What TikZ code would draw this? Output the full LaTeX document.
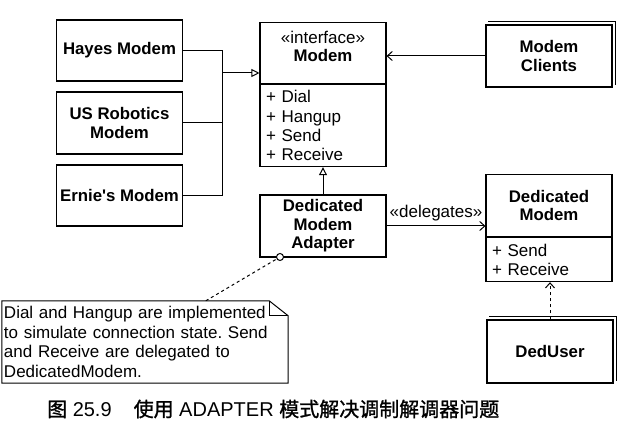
\documentclass[tikz,border=0pt]{standalone}
\usepackage{fontspec}
\setmainfont{Liberation Sans}
\newfontfamily\cjk{Noto Sans CJK SC}[AutoFakeBold=1.2]
\usetikzlibrary{arrows.meta,calc}
\frenchspacing
\tikzset{
  cls/.style={draw, line width=1.1pt, minimum width=126pt, inner sep=2pt, align=center, font=\fontsize{16.8}{18.5}\selectfont\bfseries},
  attrs/.style={draw, line width=1.1pt, minimum width=126pt, inner xsep=6pt, inner ysep=3pt, align=left, text width=114pt, font=\fontsize{17}{19.2}\selectfont},
  conn/.style={line width=1pt},
  gen/.style={conn, -{Triangle[open, length=8pt, width=8pt]}},
  dep/.style={conn, -{Straight Barb[length=5pt, width=9pt]}},
  lbl/.style={font=\fontsize{17}{19.5}\selectfont, inner sep=1pt},
}
\begin{document}
\begin{tikzpicture}[x=1pt, y=-1pt]
\useasboundingbox (0,0) rectangle (630,427);
% left implementations
\node[cls, minimum height=61pt] (hayes) at (119.5,50.5) {Hayes Modem};
\node[cls, minimum height=62pt] (usr) at (119.5,123) {US Robotics\\Modem};
\node[cls, minimum height=61pt] (ernie) at (119.5,195.5) {Ernie\textquotesingle s Modem};
% Modem interface
\node[cls, minimum height=61pt, anchor=north] (mhead) at (323,22) {};
\node[cls, draw=none, minimum height=0pt, minimum width=0pt, inner sep=0pt] (mtitle) at (323,46.5) {{\fontsize{17}{18}\selectfont\mdseries «interface»}\\Modem};
\node[attrs, minimum height=82pt, anchor=north] (mattr) at (mhead.south) {+ Dial\\+ Hangup\\+ Send\\+ Receive};
% Modem clients
\node[cls, minimum height=62pt] (clients) at (549,56) {Modem\\Clients};
\draw[line width=1.1pt] ($(clients.north west)+(3,-3)$) -- ($(clients.north east)+(3,-3)$) -- ($(clients.south east)+(3,-3)$);
% adapter
\node[cls, minimum height=62pt] (adapter) at (323,226) {Dedicated\\Modem\\Adapter};
% Dedicated modem
\node[cls, minimum height=62pt, anchor=north] (dhead) at (549,174) {Dedicated\\Modem};
\node[attrs, minimum height=44pt, anchor=north] (dattr) at (dhead.south) {+ Send\\+ Receive};
% DedUser
\node[cls, minimum height=63pt] (deduser) at (550,351.5) {DedUser};
\draw[line width=1.1pt] ($(deduser.north west)+(3,-3)$) -- ($(deduser.north east)+(3,-3)$) -- ($(deduser.south east)+(3,-3)$);
% note
\node[minimum width=286pt, minimum height=82pt, text width=282pt, align=left, inner sep=0pt, font=\fontsize{17}{19.4}\selectfont] (note) at (145,342) {Dial and Hangup are implemented\\to simulate connection state. Send\\and Receive are delegated to\\DedicatedModem.};
\draw[line width=1pt] (note.south west) -- ($(note.north west)$) -- ($(note.north east)+(-19,0)$) -- ($(note.north east)+(0,15)$) -- (note.south east) -- cycle;
\draw[line width=0.8pt] ($(note.north east)+(-19,0)$) |- ($(note.north east)+(0,15)$);
% connectors
\coordinate (j) at (222,73);
\draw[conn] (hayes.east) -| (j);
\draw[conn] (ernie.east) -| (j);
\draw[conn] (usr.east) -- (usr.east -| j);
\draw[gen] (j) -- (j -| mhead.west);
\draw[dep] (clients.west) -- (clients.west -| mhead.east);
\draw[gen] (adapter.north) -- (mattr.south);
\draw[dep] (adapter.east) -- node[lbl, above=3pt] {«delegates»} (adapter.east -| dhead.west);
\draw[dep, dashed] (deduser.north) -- (deduser.north |- dattr.south);
\coordinate (nc) at (280,257);
\coordinate (np) at ($(note.north west)+(204,0)$);
\draw[conn, dashed] (np) -- (nc);
\draw[line width=1pt, fill=white] (nc) circle (3.5pt);
% caption
\node[anchor=west, inner sep=0pt, font=\fontsize{20}{22}\selectfont] (cap) at (47,409) {{\cjk\bfseries 图} 25.9\hspace{22pt}{\cjk\bfseries 使用} ADAPTER {\cjk\bfseries 模式解决调制解调器问题}};
\end{tikzpicture}
\end{document}
